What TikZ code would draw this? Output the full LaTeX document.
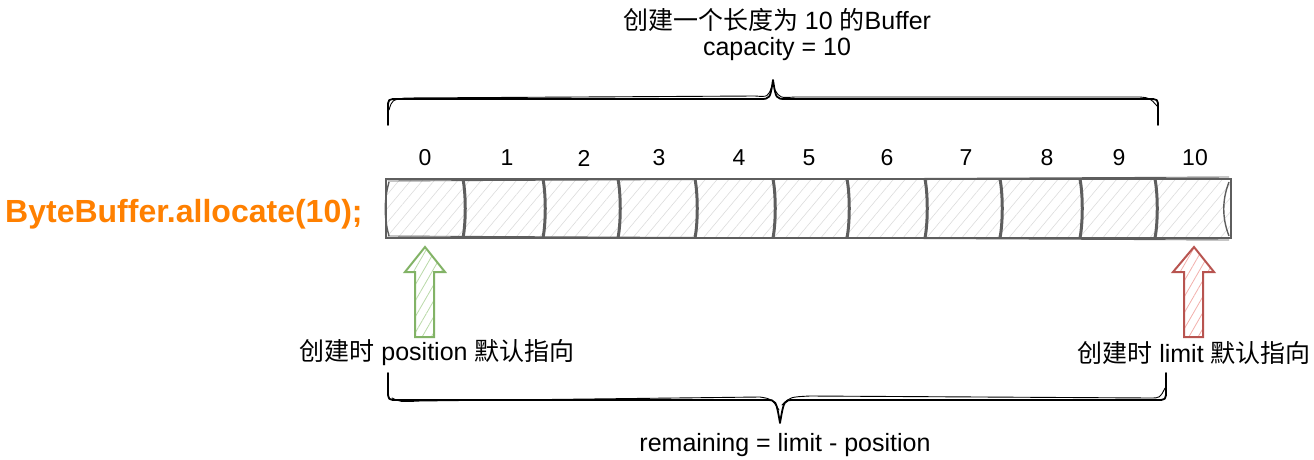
\documentclass[tikz,border=0pt]{standalone}
\usepackage{fontspec}
\setmainfont{Liberation Sans}
\newfontfamily\cjk{Noto Sans CJK SC}
\usetikzlibrary{patterns.meta}
\definecolor{strokegray}{HTML}{5E5E5E}
\definecolor{hatchgray}{HTML}{DCDCDC}
\definecolor{codeorange}{HTML}{FF8000}
\definecolor{gstroke}{HTML}{82B366}
\definecolor{gfill}{HTML}{B9D9A8}
\definecolor{rstroke}{HTML}{B85450}
\definecolor{rfill}{HTML}{F2AFAB}
\tikzset{
  lbl/.style={font=\fontsize{25}{30}\selectfont, inner sep=0pt},
  idx/.style={font=\fontsize{23}{28}\selectfont, inner sep=0pt},
  code/.style={font=\fontsize{32}{38}\selectfont\bfseries, text=codeorange, inner sep=0pt},
  bufbox/.style={draw=strokegray, line width=2.2pt,
    pattern={Lines[angle=50,distance=9pt,line width=0.6pt]}, pattern color=hatchgray},
  divider/.style={draw=strokegray, line width=3pt},
  brace/.style={draw=black, line width=1.8pt, line join=round, line cap=round},
  uparrow/.style={line width=2pt, line join=miter}
}
\begin{document}
\begin{tikzpicture}[x=1pt,y=-1pt]
\useasboundingbox (0,0) rectangle (1314,460);

% top texts
\node[lbl] (title) at (777,20) {{\cjk 创建一个长度为} 10 {\cjk 的}Buffer};
\node[lbl] (cap) at (777,49) {capacity = 10};

% top brace
\coordinate (tbL) at (388,125);
\coordinate (tbR) at (1158,125);
\coordinate (tbT) at (773,80);
\draw[brace] (tbL) -- (388,108) .. controls (388,99) .. (398,99) -- (760,99)
  .. controls (770,99) .. (tbT) .. controls (776,99) .. (786,99) -- (1148,99)
  .. controls (1158,99) .. (1158,108) -- (tbR);
\draw[brace, line width=0.9pt] (389,110) .. controls (392,100) .. (405,98) -- (755,96)
  .. controls (768,97) .. (772,86);
\draw[brace, line width=0.9pt] (775,90) .. controls (780,98) .. (795,97) -- (1140,97)
  .. controls (1150,98) .. (1157,106);

% code text
\node[code, anchor=west] (alloc) at (5,214) {ByteBuffer.allocate(10);};

% buffer
\node[bufbox, minimum width=845pt, minimum height=59pt, inner sep=0pt] (buf) at (808.5,208.5) {};
\draw[strokegray, line width=0.9pt] (388,181) -- (1229,177);
\draw[strokegray, line width=0.9pt] (388,236) -- (1229,240);
\foreach \x in {463,543,618,695,773,847,925,1000,1080,1155}{
  \draw[divider] (\x,179) .. controls (\x+3,195) and (\x+3,222) .. (\x,238);
}
\draw[strokegray, line width=1.4pt] (389,182) .. controls (384,200) and (384,218) .. (389,236);
\draw[strokegray, line width=1.4pt] (1229,182) .. controls (1222,200) and (1222,218) .. (1229,236);

% index labels
\foreach \x/\t in {425/0,507/1,584/2,659/3,739/4,809/5,887/6,966/7,1047/8,1119/9,1195/10}{
  \node[idx] (i\t) at (\x,158) {\t};
}

% green arrow (position)
\draw[uparrow, draw=gstroke, pattern={Lines[angle=60,distance=8pt,line width=0.8pt]}, pattern color=gfill]
  (425,247) -- (445,272) -- (434,272) -- (434,337) -- (415,337) -- (415,272) -- (405,272) -- cycle;
% red arrow (limit)
\draw[uparrow, draw=rstroke, pattern={Lines[angle=60,distance=8pt,line width=0.8pt]}, pattern color=rfill]
  (1194,247) -- (1214,272) -- (1203,272) -- (1203,337) -- (1184,337) -- (1184,272) -- (1173,272) -- cycle;

% arrow labels
\node[lbl] (poslbl) at (437,353) {{\cjk 创建时} position {\cjk 默认指向}};
\node[lbl] (limlbl) at (1194,353) {{\cjk 创建时} limit {\cjk 默认指向}};

% bottom brace
\coordinate (bbL) at (388,373);
\coordinate (bbR) at (1166,373);
\coordinate (bbT) at (780,423);
\draw[brace] (bbL) -- (388,390) .. controls (388,400) .. (398,400) -- (766,400)
  .. controls (776,400) .. (bbT) .. controls (784,400) .. (794,400) -- (1156,400)
  .. controls (1166,400) .. (1166,390) -- (bbR);
\draw[brace, line width=0.9pt] (392,398) .. controls (400,402) .. (420,401) -- (760,397)
  .. controls (772,399) .. (779,410);
\draw[brace, line width=0.9pt] (782,405) .. controls (790,397) .. (810,396) -- (1150,398)
  .. controls (1160,398) .. (1165,388);

% bottom text
\node[lbl] (rem) at (785,445) {remaining = limit - position};
\end{tikzpicture}
\end{document}
